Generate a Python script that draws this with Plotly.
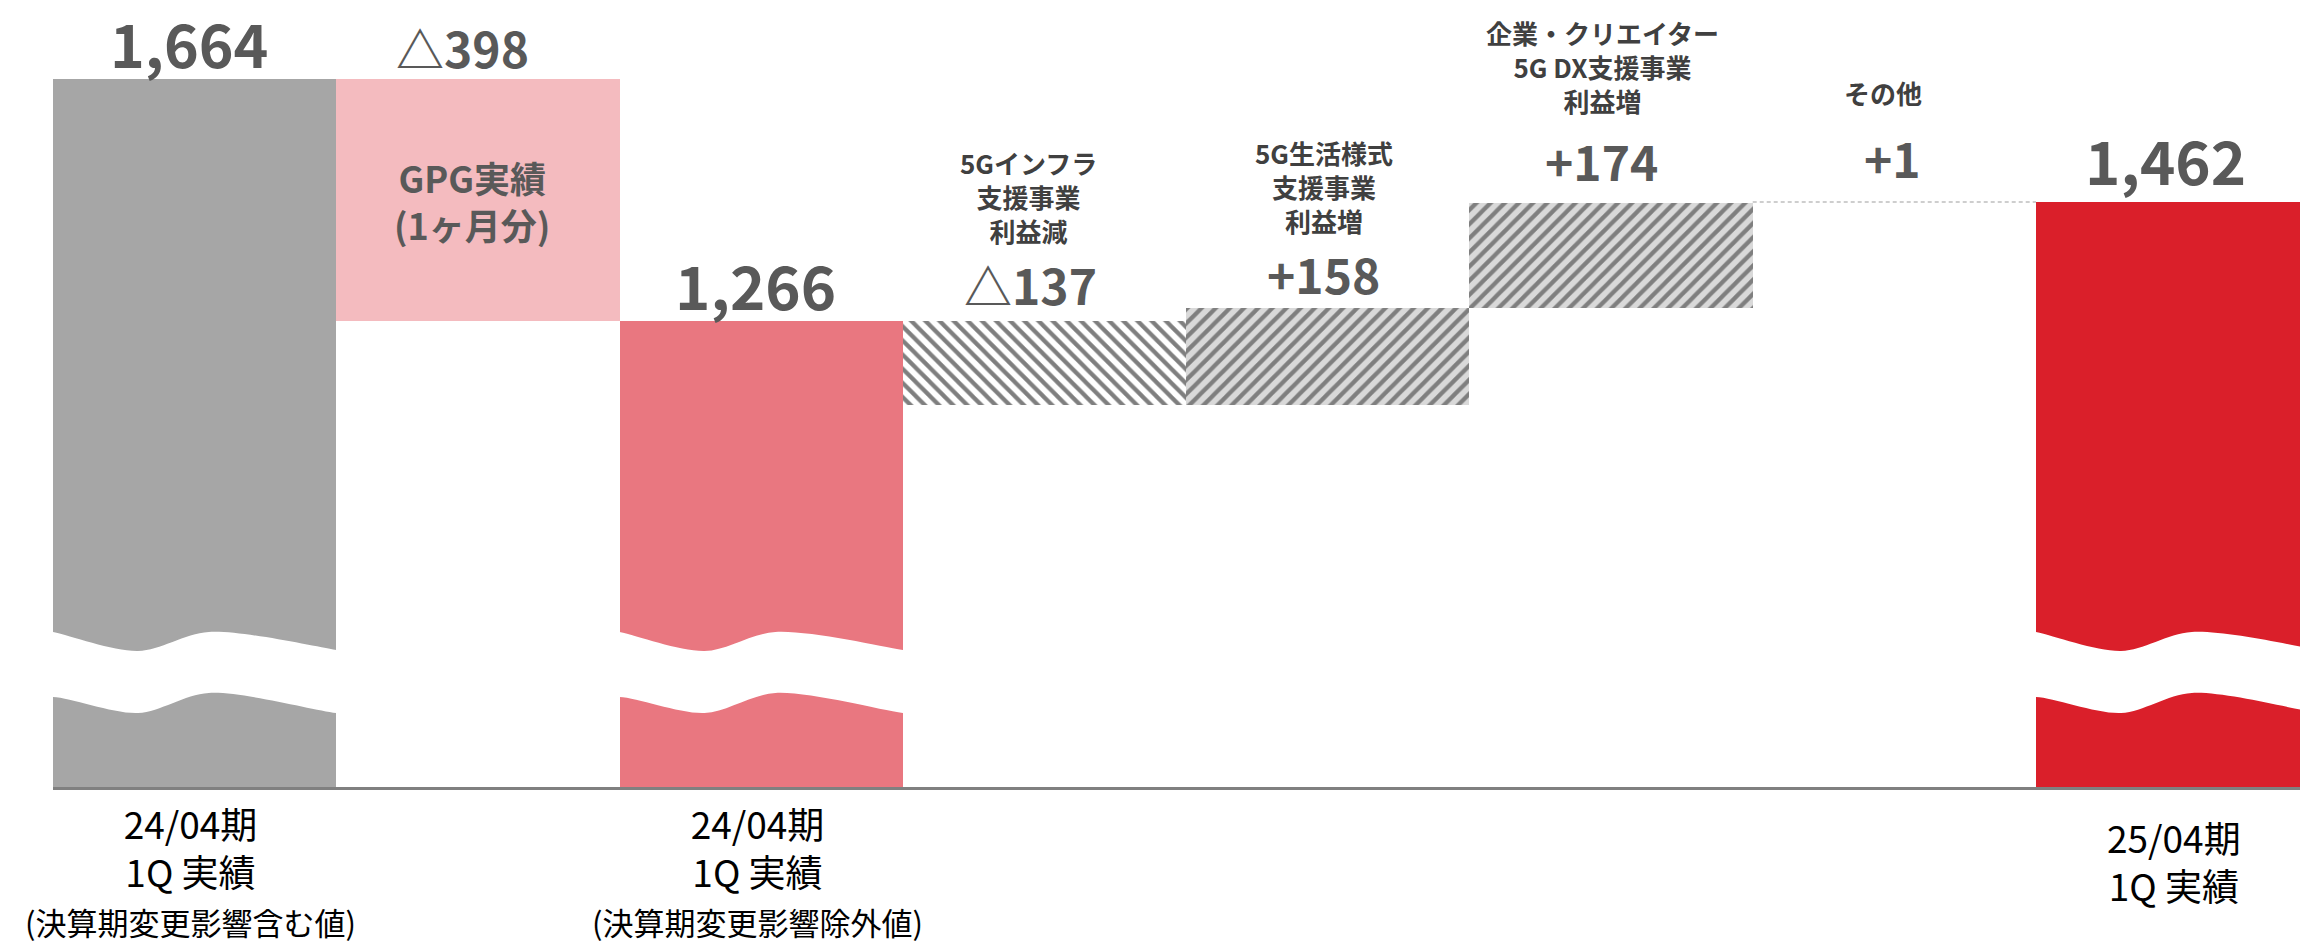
import plotly.graph_objects as go

# ---------------- data ----------------
categories = [
    "24/04期 1Q 実績(決算期変更影響含む値)",
    "GPG実績(1ヶ月分)",
    "24/04期 1Q 実績(決算期変更影響除外値)",
    "5Gインフラ支援事業利益減",
    "5G生活様式支援事業利益増",
    "企業・クリエイター5G DX支援事業利益増",
    "その他",
    "25/04期 1Q 実績",
]
values = [1664, -398, 1266, -137, 158, 174, 1, 1462]
measures = ["total", "relative", "total", "relative", "relative", "relative", "relative", "total"]
inside_notes = ["", "GPG実績<br>(1ヶ月分)", "", "", "", "", "", ""]
desc_labels = ["", "", "",
               "5Gインフラ<br>支援事業<br>利益減",
               "5G生活様式<br>支援事業<br>利益増",
               "企業・クリエイター<br>5G DX支援事業<br>利益増",
               "その他", ""]
axis_line1 = ["24/04期", "", "24/04期", "", "", "", "", "25/04期"]
axis_line2 = ["1Q 実績", "", "1Q 実績", "", "", "", "", "1Q 実績"]
axis_line3 = ["(決算期変更影響含む値)", "", "(決算期変更影響除外値)", "", "", "", "", ""]
axis_floor = 500          # truncated (broken) value axis starts here
axis_ceiling = 1794.3

# ---------------- derived geometry ----------------
bases, tops = [], []
running = 0
for v, m in zip(values, measures):
    if m == "total":
        b, t = 0, v
        running = v
    else:
        b = running if v > 0 else running + v
        t = b + abs(v)
        running += v
    bases.append(b)
    tops.append(t)

def fmt(v, m):
    if m == "total":
        return f"{v:,}"
    return ("△" if v < 0 else "+") + f"{abs(v):,}"

value_text = [fmt(v, m) for v, m in zip(values, measures)]

# ---------------- styles ----------------
W, H = 2300, 941
M_L, M_R, M_T, M_B = 53, 0, 0, 154
plot_h = H - M_T - M_B
ppu = plot_h / (axis_ceiling - axis_floor)

FONT = "Noto Sans CJK JP"
fills = ["#A6A6A6", "#F4BBBF", "#E97780", "#FFFFFF", "#D9D9D9", "#D9D9D9", None, "#DA1F2A"]
patterns = ["", "", "", "\\", "/", "/", "", ""]
val_dy = [37, 32, 38, 37, 35, 43, 45, 44]
val_dx = [-6, -15, -6, -14, -4, -10, -2, -12]
val_size = [59, 48, 60, 48, 48, 48, 48, 60]
desc_dy = [0, 0, 0, 125, 122, 136, 110, 0]
desc_dx = [0, 0, 0, -16, -4, -9, -11, 0]

fig = go.Figure()
xs = list(range(len(categories)))

for i in xs:
    if fills[i] is None:
        continue
    pat = dict(shape=patterns[i], fillmode="overlay", fgcolor="#7F7F7F", fgopacity=1,
               bgcolor=fills[i], size=10, solidity=0.42) if patterns[i] else dict(shape="")
    fig.add_trace(go.Bar(
        x=[i], y=[tops[i] - bases[i]], base=[bases[i]], width=1.0,
        marker=dict(color=fills[i], line=dict(width=0), pattern=pat),
        name=categories[i], showlegend=False, hoverinfo="skip",
    ))

# connector for the tiny "その他" step
for i in xs:
    if fills[i] is None:
        fig.add_trace(go.Scatter(
            x=[i - 0.5, i + 0.5], y=[tops[i], tops[i]], mode="lines",
            line=dict(color="#BFBFBF", width=1.5, dash="4px,3px"),
            showlegend=False, hoverinfo="skip"))

# axis-break wave bands on the total bars (decoration)
def pv(py):
    return axis_floor + (M_T + plot_h - py) / ppu

wave_rel = [-0.08, 0.0, 0.3, 0.55, 1.0, 1.08]
upper_py = [628, 632, 651, 632, 650, 654]
lower_py = [700, 697, 713, 693, 713, 715]
for i in xs:
    if measures[i] == "total":
        ux = [i - 0.5 + r for r in wave_rel]
        bx = ux[::-1]
        fig.add_trace(go.Scatter(
            x=ux + bx + [ux[0]],
            y=[pv(p) for p in upper_py] + [pv(p) for p in lower_py[::-1]] + [pv(upper_py[0])],
            mode="lines", fill="toself", fillcolor="white",
            line=dict(width=0, color="white", shape="spline", smoothing=0.9),
            showlegend=False, hoverinfo="skip"))

annotations = []
for i in xs:
    annotations.append(dict(
        x=i, y=tops[i], xref="x", yref="y", text=f"<b>{value_text[i]}</b>",
        showarrow=False, yanchor="middle", xanchor="center",
        yshift=val_dy[i], xshift=val_dx[i],
        font=dict(family=FONT, size=val_size[i], color="#595959")))
    if inside_notes[i]:
        annotations.append(dict(
            x=i, y=(tops[i] + bases[i]) / 2, xref="x", yref="y",
            text=f"<b>{inside_notes[i]}</b>", showarrow=False, xshift=-6,
            font=dict(family=FONT, size=36, color="#595959")))
    if desc_labels[i]:
        annotations.append(dict(
            x=i, y=tops[i], xref="x", yref="y", text=f"<b>{desc_labels[i]}</b>",
            showarrow=False, yanchor="middle", yshift=desc_dy[i], xshift=desc_dx[i],
            font=dict(family=FONT, size=26, color="#404040")))
    if axis_line1[i]:
        lines = [axis_line1[i], axis_line2[i]]
        if axis_line3[i]:
            lines.append(f"<span style='font-size:31px'>{axis_line3[i]}</span>")
            center_py = 870
        else:
            center_py = 861
        annotations.append(dict(
            x=i, y=0, xref="x", yref="paper", text="<br>".join(lines), showarrow=False,
            yanchor="middle", yshift=-(center_py - (M_T + plot_h)), xshift=-4,
            font=dict(family=FONT, size=37, color="#000000")))

fig.update_layout(
    width=W, height=H, margin=dict(l=M_L, r=M_R, t=M_T, b=M_B),
    paper_bgcolor="white", plot_bgcolor="white", bargap=0, barmode="overlay",
    showlegend=False, annotations=annotations,
    xaxis=dict(range=[-0.5, -0.5 + (W - M_L - M_R) / ((2036 - 53) / 7)],
               showgrid=False, zeroline=False, showticklabels=False, ticks="",
               showline=True, linecolor="#808080", linewidth=3),
    yaxis=dict(range=[axis_floor, axis_ceiling], visible=False, showgrid=False, zeroline=False),
)

fig.write_html("out.html", config={"displayModeBar": False},
               post_script="document.body.style.margin='0';")
